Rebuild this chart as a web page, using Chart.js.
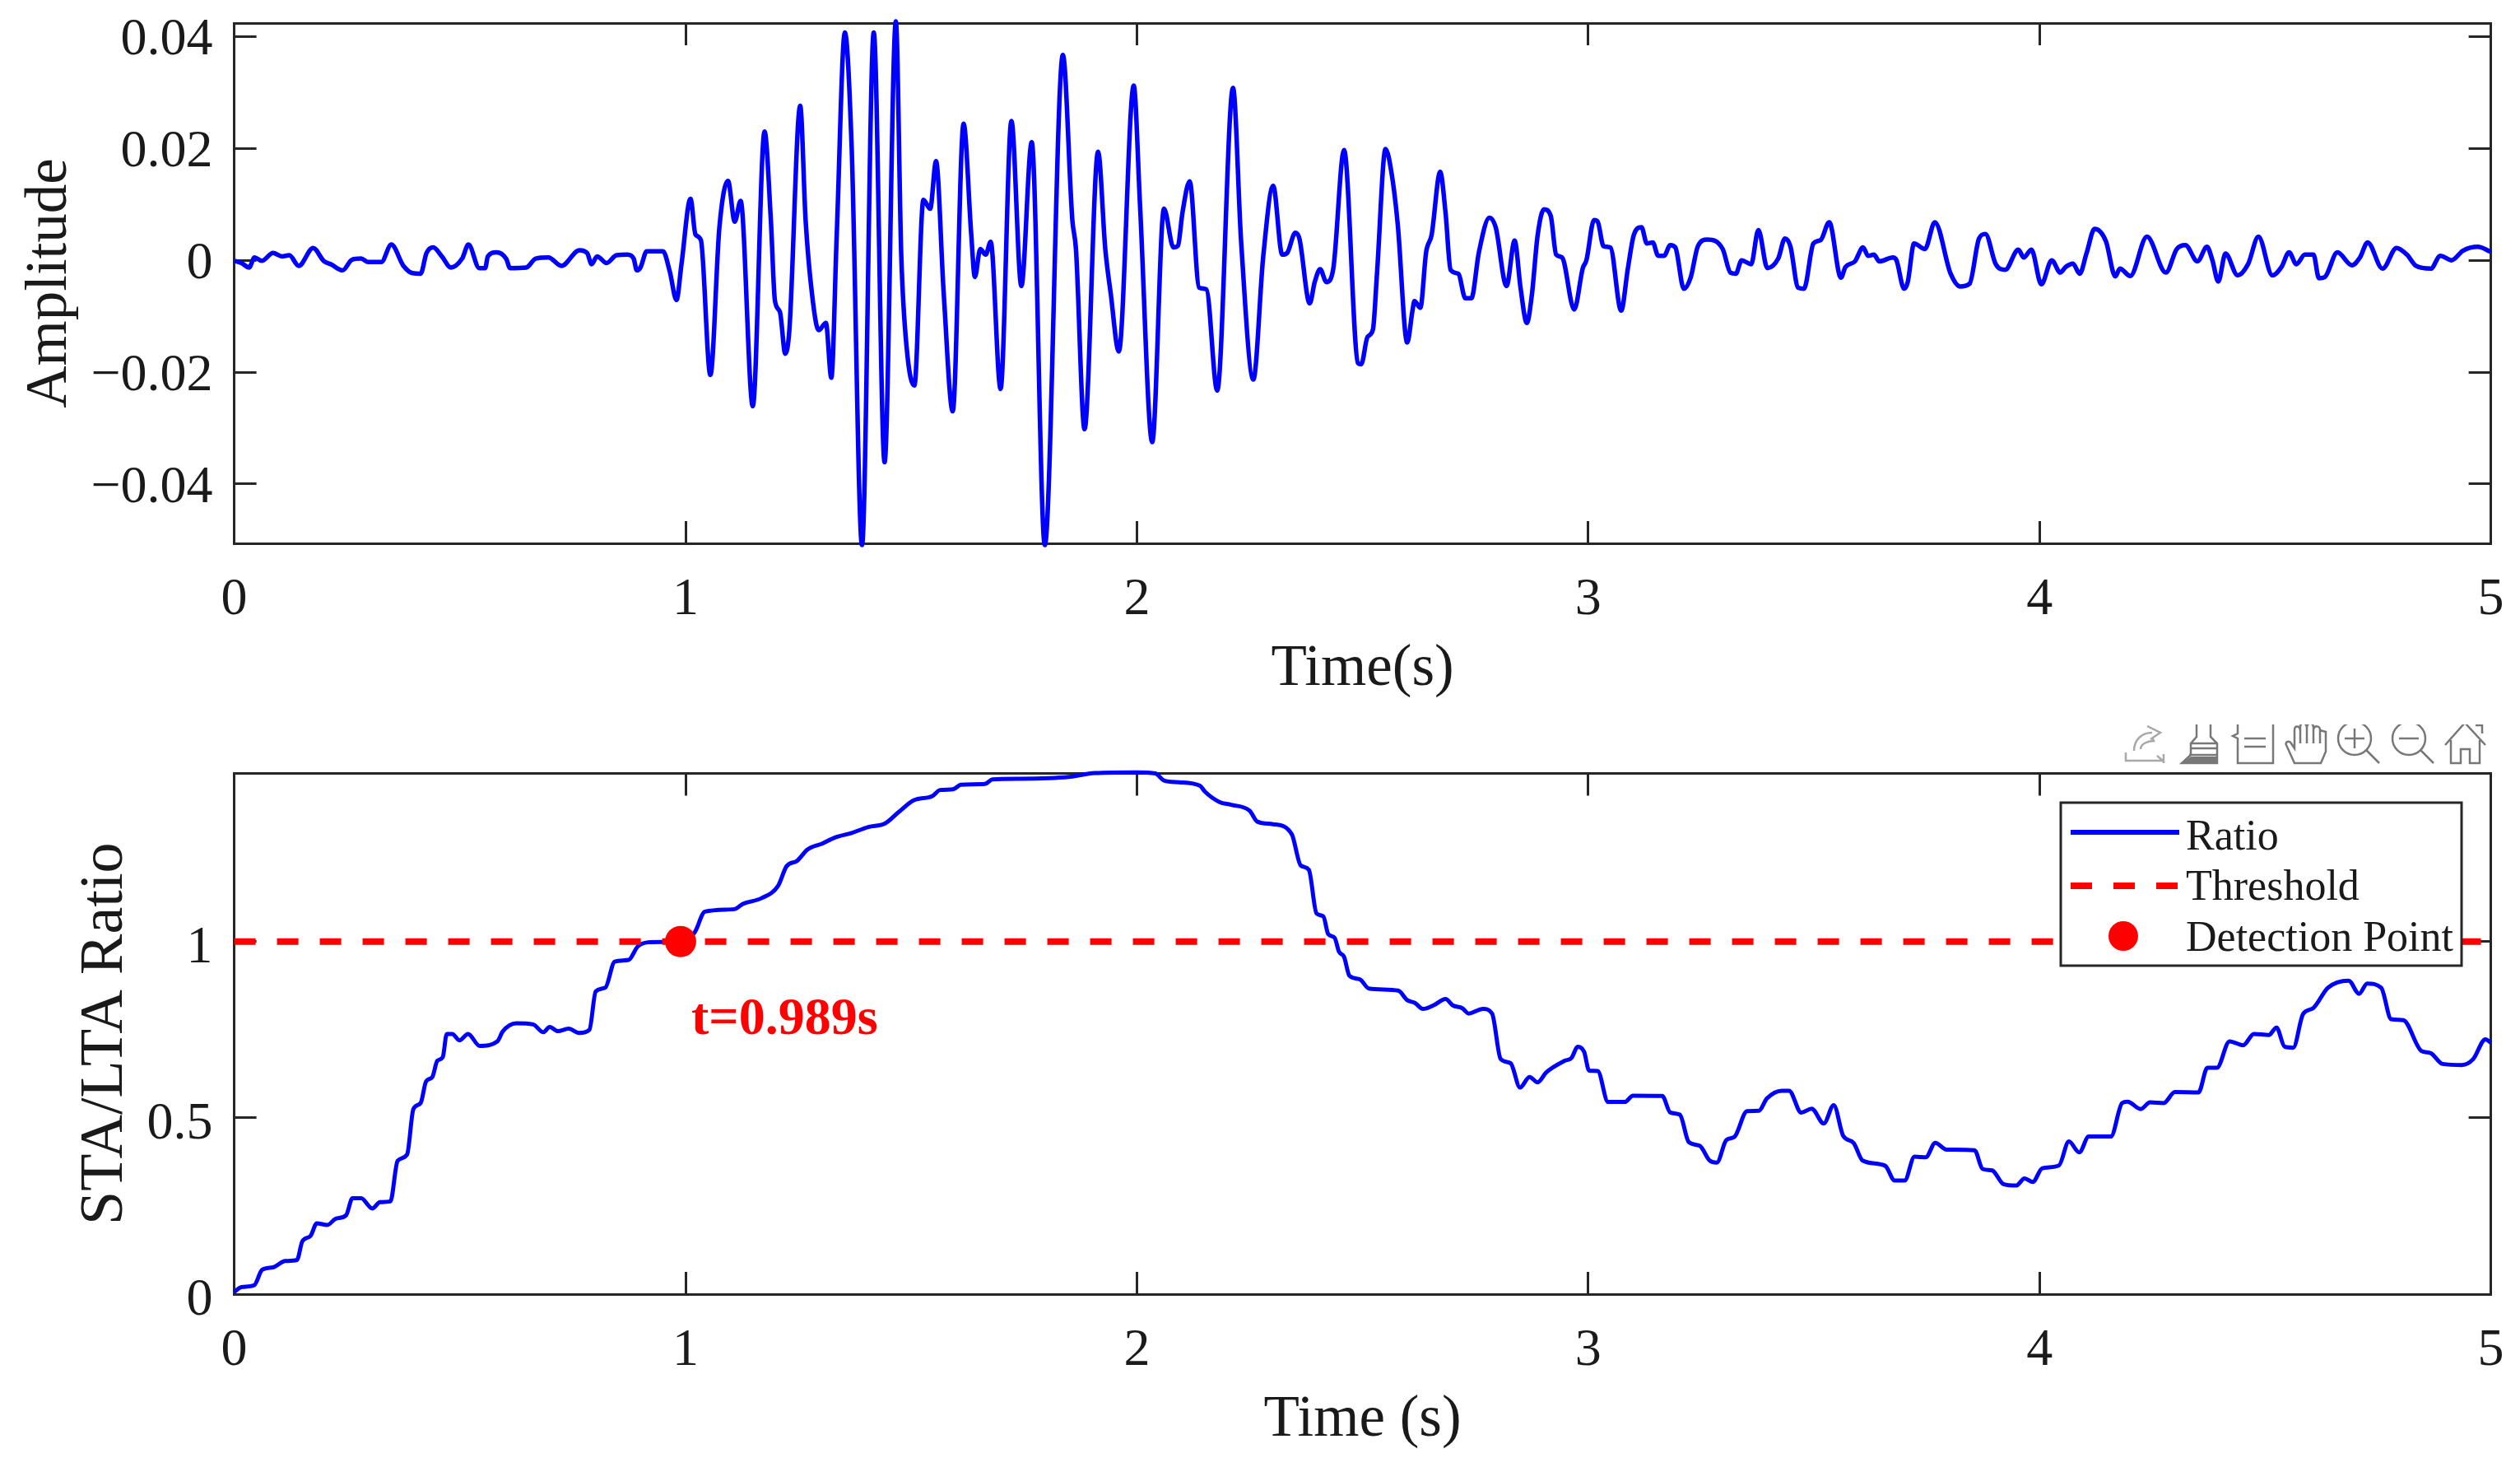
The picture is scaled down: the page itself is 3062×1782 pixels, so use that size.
<!DOCTYPE html>
<html><head><meta charset="utf-8">
<script src="https://cdn.jsdelivr.net/npm/chart.js@4"></script>
<style>
html,body{margin:0;padding:0;background:#fff;width:3062px;height:1782px;overflow:hidden}
canvas{position:absolute;left:0}
#c1{top:0}#c2{top:880px}
</style></head><body>
<canvas id="c1" width="3062" height="880"></canvas>
<canvas id="c2" width="3062" height="902"></canvas>
<script>
const timeTicks=[0,1,2,3,4,5];
const ampTicks=[-0.04,-0.02,0,0.02,0.04];
const ampTickLabels=['\u22120.04','\u22120.02','0','0.02','0.04'];
const ratioTicks=[0,0.5,1];
const ratioTickLabels=['0','0.5','1'];
const ampTimes=[0,.016,.033,.045,.061,.086,.106,.122,.143,.175,.198,.216,.24,.261,.281,.297,.326,.348,.375,.395,.413,.426,.441,.46,.48,.505,.519,.543,.556,.562,.581,.603,.611,.647,.668,.696,.725,.765,.782,.792,.804,.825,.847,.871,.885,.892,.9,.914,.95,.965,.98,.991,1.011,1.022,1.034,1.055,1.075,1.094,1.109,1.122,1.149,1.175,1.189,1.198,1.209,1.221,1.23,1.254,1.266,1.28,1.295,1.311,1.323,1.335,1.353,1.368,1.391,1.417,1.441,1.466,1.478,1.49,1.507,1.527,1.542,1.555,1.572,1.592,1.616,1.633,1.641,1.653,1.665,1.676,1.698,1.722,1.744,1.767,1.796,1.836,1.857,1.865,1.884,1.914,1.93,1.942,1.96,1.993,2.007,2.034,2.06,2.081,2.091,2.101,2.117,2.138,2.154,2.178,2.213,2.231,2.258,2.28,2.302,2.322,2.333,2.351,2.36,2.383,2.394,2.406,2.42,2.435,2.459,2.49,2.497,2.511,2.523,2.532,2.551,2.565,2.578,2.599,2.611,2.615,2.628,2.641,2.653,2.672,2.684,2.695,2.712,2.728,2.741,2.758,2.781,2.795,2.819,2.837,2.85,2.864,2.875,2.888,2.902,2.917,2.929,2.942,2.969,2.988,2.996,3.013,3.021,3.034,3.049,3.073,3.088,3.101,3.118,3.13,3.143,3.155,3.168,3.182,3.193,3.212,3.227,3.243,3.264,3.298,3.315,3.327,3.34,3.361,3.377,3.397,3.421,3.436,3.448,3.465,3.478,3.499,3.515,3.534,3.56,3.57,3.591,3.609,3.62,3.633,3.645,3.675,3.683,3.7,3.708,3.722,3.746,3.768,3.803,3.824,3.845,3.866,3.88,3.903,3.924,3.953,3.965,3.982,4.004,4.027,4.046,4.058,4.074,4.089,4.104,4.122,4.147,4.168,4.178,4.201,4.238,4.28,4.304,4.323,4.35,4.371,4.383,4.396,4.412,4.439,4.462,4.485,4.516,4.536,4.553,4.569,4.588,4.607,4.619,4.632,4.66,4.692,4.71,4.727,4.76,4.791,4.814,4.834,4.867,4.888,4.913,4.938,4.971,5];
const ampValues=[-.0001,-.0005,-.0013,.0005,-.0001,.0013,.0007,.0009,-.001,.0022,-.0001,-.0008,-.0018,.0001,.0003,-.0003,-.0003,.0028,-.001,-.0023,-.0024,.0013,.0023,.0007,-.0013,.0003,.0028,-.0014,-.0014,.0007,.0014,.0002,-.0014,-.0013,.0003,.0005,-.001,.0018,.0013,-.0007,.0007,-.0005,.0009,.001,.0003,-.0018,-.0013,.0016,.0016,-.002,-.0071,-.0007,.011,.0046,.0036,-.0205,.0059,.0142,.0069,.0106,-.0261,.023,.0072,-.0072,-.0092,-.0167,-.0125,.0276,.0072,-.0059,-.0125,-.0112,-.021,.0046,.0407,.0203,-.0509,.0407,-.0361,.0427,.0007,-.0157,-.0224,.0108,.0092,.0177,-.0059,-.027,.0244,.0046,-.003,.002,.001,.0033,-.023,.0249,-.0046,.0211,-.0509,.0367,.0072,.002,-.0302,.0194,.002,-.0059,-.0163,.0312,.0098,-.0325,.0092,.0023,.0026,.0085,.0141,-.0049,-.0052,-.0233,.0308,.0033,-.0213,.0007,.0133,.001,.0013,.0049,.0039,-.0077,-.0039,-.0016,-.0039,-.0016,.0197,-.0184,-.0186,-.0137,-.0124,-.0024,.0199,.0152,.0064,-.0147,-.0088,-.0073,-.0085,.0015,.0045,.0158,.0084,-.0017,-.0024,-.0068,-.0068,.0015,.0076,.0059,-.0046,.0035,-.0049,-.0112,-.0063,.0045,.0091,.0079,.001,.0005,-.0088,-.0014,0,.0072,.0069,.0025,.0023,-.009,-.0014,.0045,.0059,.003,.0032,.0008,.0008,.0027,.0023,-.0051,-.0031,.0025,.0037,.002,-.0022,-.0024,0,-.0007,.0054,-.0014,.0003,.0039,.0025,-.0049,-.0051,.003,.0036,.0068,-.0031,-.0012,-.0002,.0023,.0008,.001,-.0002,.0005,0,-.0051,-.0039,.003,.002,.0068,-.0024,-.0047,-.0042,.0039,.0047,-.0007,-.0017,.0019,.0005,.0019,-.0043,0,-.0022,-.0012,-.0006,-.0024,.0012,.0056,.0034,-.0029,-.0015,-.0028,.0042,-.0022,.002,.0027,-.0002,.0024,0,-.0038,.0012,-.0027,-.0007,.0042,-.0027,-.0012,.0014,-.0007,.001,.001,-.0032,-.003,.0014,-.0009,.0005,.0032,-.0015,.0022,.001,-.001,-.0015,.0008,0,.0017,.0024,.0015];
const ratioTimes=[0,.016,.044,.062,.086,.113,.139,.151,.169,.183,.206,.225,.248,.262,.281,.306,.323,.346,.362,.383,.397,.413,.425,.439,.45,.462,.471,.483,.499,.518,.544,.583,.595,.625,.662,.685,.699,.717,.741,.764,.787,.801,.822,.843,.874,.894,.917,.945,.989,1.02,1.043,1.108,1.127,1.168,1.205,1.224,1.247,1.27,1.303,1.331,1.368,1.405,1.442,1.471,1.506,1.547,1.564,1.593,1.61,1.663,1.68,1.744,1.849,1.907,2,2.041,2.06,2.093,2.14,2.151,2.183,2.209,2.25,2.267,2.302,2.343,2.363,2.381,2.398,2.413,2.424,2.438,2.448,2.459,2.471,2.494,2.514,2.579,2.599,2.616,2.634,2.657,2.684,2.7,2.721,2.735,2.767,2.787,2.806,2.828,2.849,2.87,2.888,2.907,2.948,2.963,2.977,2.991,3.002,3.021,3.044,3.081,3.099,3.164,3.182,3.203,3.223,3.247,3.269,3.285,3.306,3.324,3.352,3.378,3.396,3.429,3.445,3.472,3.495,3.522,3.544,3.565,3.588,3.608,3.658,3.679,3.701,3.723,3.748,3.769,3.794,3.856,3.874,3.895,3.92,3.948,3.967,3.985,4.006,4.043,4.065,4.088,4.109,4.158,4.183,4.195,4.224,4.245,4.275,4.3,4.352,4.372,4.393,4.421,4.451,4.475,4.508,4.525,4.543,4.562,4.584,4.606,4.639,4.685,4.708,4.726,4.757,4.779,4.806,4.846,4.866,4.893,4.936,4.961,4.988,5];
const ratioValues=[.006,.02,.025,.069,.076,.094,.097,.15,.165,.201,.196,.214,.224,.272,.272,.243,.261,.263,.378,.396,.525,.542,.603,.616,.662,.672,.738,.738,.72,.738,.704,.717,.745,.768,.765,.743,.758,.746,.753,.741,.75,.859,.869,.943,.948,.986,.998,.999,1,1.026,1.085,1.092,1.107,1.123,1.158,1.214,1.229,1.261,1.278,1.295,1.308,1.325,1.335,1.366,1.401,1.413,1.43,1.432,1.445,1.447,1.46,1.462,1.467,1.478,1.48,1.477,1.457,1.452,1.442,1.425,1.396,1.388,1.371,1.34,1.333,1.305,1.216,1.204,1.08,1.072,1.021,1.011,.971,.957,.903,.893,.867,.861,.834,.826,.809,.819,.837,.819,.811,.796,.809,.796,.667,.655,.586,.616,.601,.629,.662,.67,.702,.687,.634,.633,.545,.545,.563,.562,.515,.509,.431,.421,.379,.373,.437,.446,.519,.52,.555,.577,.577,.515,.526,.484,.536,.449,.429,.379,.364,.322,.322,.39,.388,.429,.41,.408,.355,.351,.312,.308,.328,.318,.357,.365,.433,.402,.447,.447,.542,.546,.525,.544,.542,.573,.572,.642,.642,.717,.706,.738,.735,.756,.702,.699,.795,.811,.869,.889,.852,.881,.869,.78,.777,.69,.684,.653,.65,.667,.723,.713];
const thresholdTimes=[0,5];
const thresholdValues=[1,1];
const detectionTime=[0.989];
const detectionValue=[1];
const detectionText='t=0.989s';
const SERIF='"Liberation Serif","Times New Roman",serif';
const INK='#262626';
const pts=(xs,ys)=>xs.map((x,i)=>({x,y:ys[i]}));
const noPad=s=>{s.paddingTop=s.paddingBottom=s.paddingLeft=s.paddingRight=0;};

function axes(o){
  const grid={drawOnChartArea:false,drawTicks:true,tickLength:-27,tickWidth:3,tickColor:INK};
  const border={display:true,color:INK,width:3};
  const setTicks=(vals)=>function(ax){ax.ticks=vals.map(v=>({value:v}));};
  return {
    x:{type:'linear',position:'bottom',min:0,max:5,afterBuildTicks:setTicks(timeTicks),
       afterFit:s=>{s.height=o.xH;noPad(s);},grid,border,
       ticks:{color:'#1a1a1a',font:{family:SERIF,size:64},padding:o.xPad,maxRotation:0,autoSkip:false,callback:v=>String(v)},
       title:{display:true,text:o.xTitle,color:'#1a1a1a',font:{family:SERIF,size:71,lineHeight:1},padding:{top:0,bottom:o.xTitlePad}}},
    x2:{type:'linear',position:'top',min:0,max:5,afterBuildTicks:setTicks(timeTicks),
       afterFit:s=>{s.height=0;noPad(s);},grid,border,ticks:{display:false}},
    y:{type:'linear',position:'left',min:o.yMin,max:o.yMax,afterBuildTicks:setTicks(o.yTicks),
       afterFit:s=>{s.width=284.6;noPad(s);},grid,border,
       ticks:{color:'#1a1a1a',font:{family:SERIF,size:64},padding:53,labelOffset:o.yLabelOffset,autoSkip:false,callback:v=>o.yLabels[o.yTicks.indexOf(v)]},
       title:{display:true,text:o.yTitle,color:'#1a1a1a',font:{family:SERIF,size:o.yTitleSize,lineHeight:1},padding:{top:o.yTitlePad,bottom:0}}},
    y2:{type:'linear',position:'right',min:o.yMin,max:o.yMax,afterBuildTicks:setTicks(o.yTicks),
       afterFit:s=>{s.width=0;noPad(s);},grid,border,ticks:{display:false}}
  };
}
const base={responsive:false,animation:false,devicePixelRatio:1,parsing:false,normalized:true,
  plugins:{legend:{display:false},tooltip:{enabled:false}}};

new Chart(document.getElementById('c1'),{type:'line',
  data:{datasets:[{label:'Amplitude',data:pts(ampTimes,ampValues),borderColor:'#0000ff',borderWidth:5.5,pointRadius:0,cubicInterpolationMode:'monotone',borderJoinStyle:'round',clip:false}]},
  options:{...base,layout:{autoPadding:false,padding:{top:28,right:35.4,left:0,bottom:0}},
    scales:axes({xH:220,xPad:58,xTitle:'Time(s)',xTitlePad:31,yMin:-0.0506,yMax:0.0424,yTicks:ampTicks,yLabels:ampTickLabels,yLabelOffset:5,yTitle:'Amplitude',yTitleSize:71,yTitlePad:26})}
});

const ICONS=[
 {x:2581,y:880,c:'#a8a8a8',d:'M2 34V44H46M40 38L48 45M48 36V47M12 32C12 18 22 10 34 10M28 2L44 10L32 18M20 30C20 24 28 20 36 20L34 16'},
 {x:2650,y:877,c:'#777',d:'M19 1H36V18L44 26V50H1L12 40V26L19 18ZM12 26H44M12 32H44M10 40H44',f:'M12 42H44V50H2Z'},
 {x:2711,y:877,c:'#777',d:'M8 1H51V50H8V20L2 17L8 14ZM16 20H42M16 30H42'},
 {x:2776,y:877,c:'#777',d:'M12 50L2 28C0 24 6 22 8 26L12 32V10C12 4 18 4 19 10V6C19 0 26 0 27 6C28 0 35 0 35 7V9C36 4 43 4 43 10L50 12V36L44 50ZM19 8V26M27 6V26M35 8V26M43 10V26'},
 {x:2840,y:877,c:'#777',d:'M41 20A20 20 0 1 1 1 20A20 20 0 1 1 41 20ZM35 34L51 50M9 20H33M21 8V32'},
 {x:2906,y:877,c:'#777',d:'M41 20A20 20 0 1 1 1 20A20 20 0 1 1 41 20ZM35 34L51 50M9 20H33'},
 {x:2970,y:877,c:'#777',d:'M1 28L25 1L50 28M8 22V50H20V33H31V50H43V22M38 4H46V14'}
];
const overlay={id:'overlay',afterDraw(chart){
  const ctx=chart.ctx,xs=chart.scales.x,ys=chart.scales.y,off=880;
  ctx.save();
  ctx.fillStyle='#ff0000';ctx.font='bold 64px '+SERIF;ctx.textBaseline='alphabetic';ctx.textAlign='left';
  ctx.fillText(detectionText,xs.getPixelForValue(detectionTime[0])+13,ys.getPixelForValue(detectionValue[0])+112);
  const items=chart.data.datasets;
  ctx.fillStyle='#fff';ctx.strokeStyle=INK;ctx.lineWidth=3;
  ctx.fillRect(2504,975-off,487,198);ctx.strokeRect(2504,975-off,487,198);
  ctx.lineCap='butt';
  ctx.strokeStyle=items[0].borderColor;ctx.lineWidth=6;ctx.beginPath();ctx.moveTo(2516,1011-off);ctx.lineTo(2648,1011-off);ctx.stroke();
  ctx.strokeStyle=items[1].borderColor;ctx.lineWidth=8;ctx.setLineDash(items[1].borderDash);ctx.beginPath();ctx.moveTo(2516,1076-off);ctx.lineTo(2648,1076-off);ctx.stroke();ctx.setLineDash([]);
  ctx.fillStyle=items[2].pointBackgroundColor;ctx.beginPath();ctx.arc(2580,1137-off,18,0,Math.PI*2);ctx.fill();
  ctx.fillStyle='#1a1a1a';ctx.font='52px '+SERIF;
  ctx.fillText(items[0].label,2656,1032-off);ctx.fillText(items[1].label,2656,1093-off);ctx.fillText(items[2].label,2656,1155-off);
  ctx.lineWidth=2.5;
  ICONS.forEach(ic=>{ctx.save();ctx.translate(ic.x,ic.y-off);ctx.strokeStyle=ic.c;ctx.fillStyle=ic.c;ctx.stroke(new Path2D(ic.d));if(ic.f)ctx.fill(new Path2D(ic.f));ctx.restore();});
  ctx.restore();
}};
new Chart(document.getElementById('c2'),{type:'line',
  data:{datasets:[
    {label:'Ratio',data:pts(ratioTimes,ratioValues),borderColor:'#0000ff',borderWidth:5,pointRadius:0,cubicInterpolationMode:'monotone',order:3,borderJoinStyle:'round',clip:false},
    {label:'Threshold',data:pts(thresholdTimes,thresholdValues),borderColor:'#ff0000',borderWidth:8,borderDash:[26,26],pointRadius:0,tension:0,order:2},
    {label:'Detection Point',data:pts(detectionTime,detectionValue),borderColor:'#ff0000',pointBackgroundColor:'#ff0000',pointBorderWidth:0,pointRadius:19,showLine:false,order:1}
  ]},
  options:{...base,layout:{autoPadding:false,padding:{top:59.5,right:35.4,left:0,bottom:0}},
    scales:axes({xH:210,xPad:58,xTitle:'Time (s)',xTitlePad:21,yMin:0,yMax:1.477,yTicks:ratioTicks,yLabels:ratioTickLabels,yLabelOffset:8,yTitle:'STA/LTA Ratio',yTitleSize:74,yTitlePad:92})},
  plugins:[overlay]
});
</script></body></html>
